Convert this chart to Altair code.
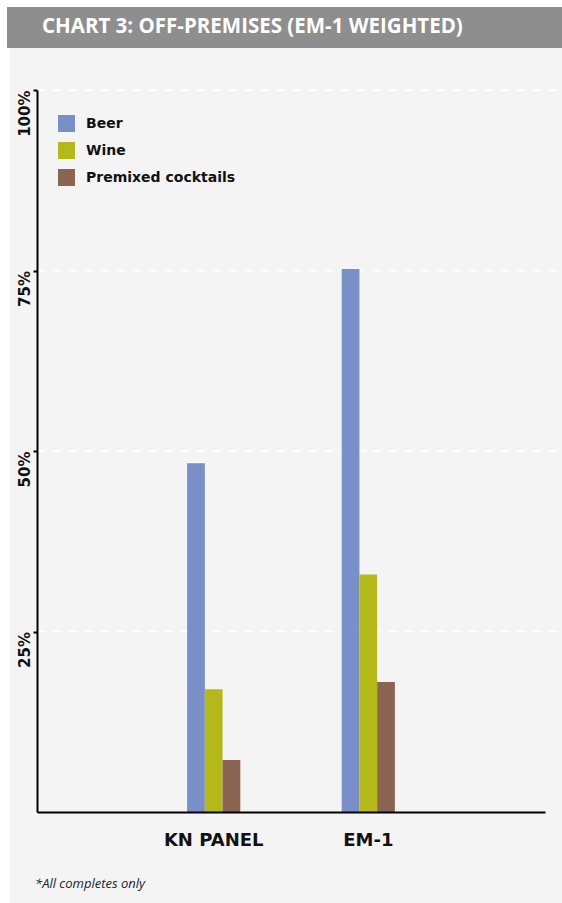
import altair as alt
import pandas as pd

# Data
groups = ["KN PANEL", "EM-1"]
series = ["Beer", "Wine", "Premixed cocktails"]
beer = [48.3, 75.2]
wine = [17.0, 32.9]
premixed = [7.2, 18.0]
colors = ["#7890c7", "#b5b819", "#8b6552"]
y_ticks = [25, 50, 75, 100]
title_text = "CHART 3: OFF-PREMISES (EM-1 WEIGHTED)"
footnote = "*All completes only"

rows = []
for name, vals in zip(series, [beer, wine, premixed]):
    for g, v in zip(groups, vals):
        rows.append({"group": g, "series": name, "value": v})
bars_df = pd.DataFrame(rows)
grid_df = pd.DataFrame({"value": y_ticks})
one = pd.DataFrame({"k": [0]})

W, H = 508, 722

y_enc = alt.Y(
    "value:Q",
    title=None,
    scale=alt.Scale(domain=[0, 100], nice=False),
    axis=alt.Axis(
        values=y_ticks,
        labelExpr="datum.value + '%'",
        grid=False,
        domainColor="#000000",
        domainWidth=2,
        tickColor="#000000",
        tickWidth=2,
        tickSize=4,
        labelAngle=270,
        labelAlign="right",
        labelBaseline="alphabetic",
        labelPadding=4,
        labelFont="DejaVu Sans",
        labelFontWeight="bold",
        labelFontSize=15,
        labelColor="#111111",
        zindex=1,
    ),
)

# Light panel behind the plot and the grey title band
panel = alt.Chart(one).mark_rect(color="#f4f4f4").encode(
    x=alt.value(-27), x2=alt.value(525), y=alt.value(-42), y2=alt.value(813)
)
band = alt.Chart(one).mark_rect(color="#8e8e8e").encode(
    x=alt.value(-30), x2=alt.value(525), y=alt.value(-83), y2=alt.value(-42)
)
heading = alt.Chart(one).mark_text(
    align="left", baseline="alphabetic", font="Open Sans",
    fontWeight="bold", fontSize=20.5, color="#ffffff"
).encode(x=alt.value(5), y=alt.value(-57), text=alt.value(title_text))

# Dashed white gridlines
grid = alt.Chart(grid_df).mark_rule(
    color="#ffffff", strokeWidth=2, strokeDash=[8, 8]
).encode(y=y_enc, x=alt.value(0), x2=alt.value(523))

bars = alt.Chart(bars_df).mark_bar().encode(
    x=alt.X(
        "group:N",
        sort=groups,
        title=None,
        scale=alt.Scale(paddingInner=0.656, paddingOuter=0.971),
        axis=alt.Axis(
            labelAngle=0,
            ticks=False,
            domainColor="#000000",
            domainWidth=2,
            labelFont="DejaVu Sans",
            labelFontWeight="bold",
            labelFontSize=18,
            labelColor="#111111",
            labelPadding=19,
            zindex=1,
        ),
    ),
    xOffset=alt.XOffset("series:N", sort=series),
    y=y_enc,
    color=alt.Color(
        "series:N",
        sort=series,
        scale=alt.Scale(domain=series, range=colors),
        legend=alt.Legend(
            orient="none",
            legendX=21,
            legendY=25,
            title=None,
            padding=0,
            symbolType="square",
            symbolSize=289,
            symbolStrokeWidth=0,
            symbolOpacity=1,
            rowPadding=10,
            labelOffset=11,
            labelFont="DejaVu Sans",
            labelFontWeight="bold",
            labelFontSize=14,
            labelColor="#111111",
        ),
    ),
)

note = alt.Chart(one).mark_text(
    align="left", baseline="alphabetic", font="Open Sans",
    fontStyle="italic", fontSize=13, color="#222222"
).encode(x=alt.value(-2), y=alt.value(798), text=alt.value(footnote))

chart = alt.layer(panel, band, heading, grid, bars, note).properties(
    width=W,
    height=H,
    padding={"left": 37, "top": 90, "right": 17, "bottom": 91},
    autosize=alt.AutoSizeParams(type="none"),
    background="#ffffff",
).configure_view(strokeWidth=0)

chart.save("out.html", embed_options={"renderer": "svg", "actions": False})
